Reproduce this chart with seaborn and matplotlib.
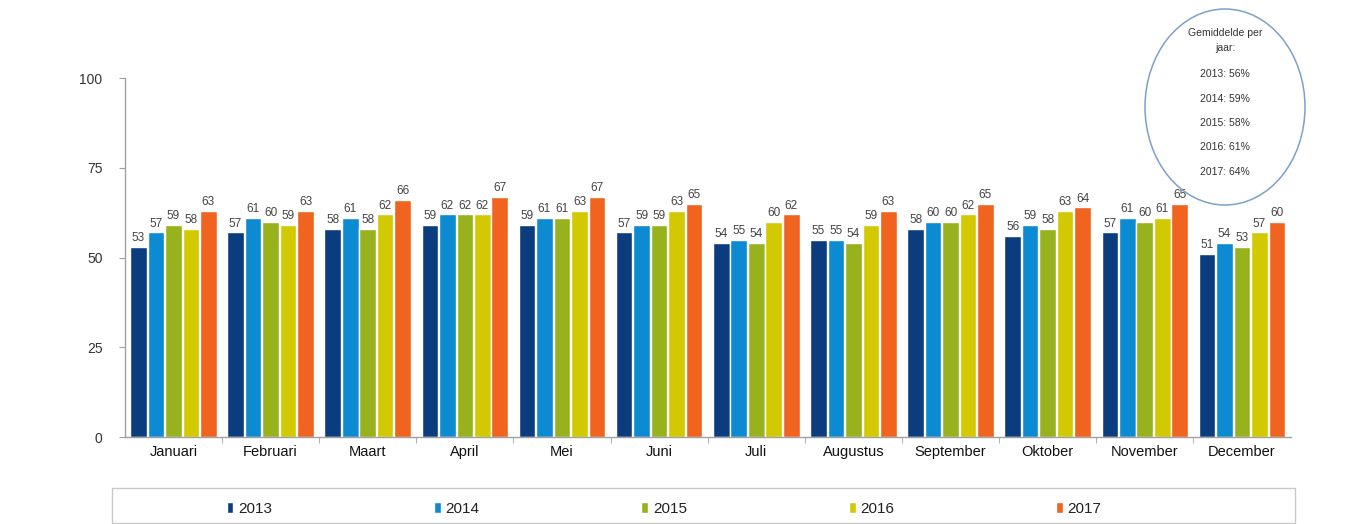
import pandas as pd
import matplotlib
matplotlib.use("Agg")
import matplotlib.pyplot as plt
from matplotlib.patches import Ellipse, Patch, Rectangle
import seaborn as sns

# data
months = ["Januari", "Februari", "Maart", "April", "Mei", "Juni", "Juli",
          "Augustus", "September", "Oktober", "November", "December"]
years = ["2013", "2014", "2015", "2016", "2017"]
v2013 = [53, 57, 58, 59, 59, 57, 54, 55, 58, 56, 57, 51]
v2014 = [57, 61, 61, 62, 61, 59, 55, 55, 60, 59, 61, 54]
v2015 = [59, 60, 58, 62, 61, 59, 54, 54, 60, 58, 60, 53]
v2016 = [58, 59, 62, 62, 63, 63, 60, 59, 62, 63, 61, 57]
v2017 = [63, 63, 66, 67, 67, 65, 62, 63, 65, 64, 65, 60]
averages = ["2013: 56%", "2014: 59%", "2015: 58%", "2016: 61%", "2017: 64%"]

colors = ["#0b3d7e", "#0d8bd2", "#97b21d", "#d3c900", "#f06420"]

rows = []
for yr, vals in zip(years, [v2013, v2014, v2015, v2016, v2017]):
    for m, v in zip(months, vals):
        rows.append({"maand": m, "jaar": yr, "waarde": v})
df = pd.DataFrame(rows)

sns.set_style("white")
plt.rcParams['font.family'] = ['Liberation Sans', 'DejaVu Sans']

fig = plt.figure(figsize=(13.57, 5.24), dpi=100)
ax = fig.add_axes([0.092, 0.166, 0.859, 0.685])

sns.barplot(data=df, x="maand", y="waarde", hue="jaar", order=months,
            hue_order=years, palette=colors, width=0.9, gap=0.05,
            saturation=1, ax=ax, legend=False, errorbar=None)

for cont in ax.containers:
    ax.bar_label(cont, fmt="%d", fontsize=8.5, color="#444444", padding=2)

ax.set_ylim(0, 100)
ax.set_xlim(-0.5, len(months) - 0.5)
ax.set_yticks([0, 25, 50, 75, 100])
ax.set_xlabel("")
ax.set_ylabel("")
for s in ["top", "right"]:
    ax.spines[s].set_visible(False)
for s in ["left", "bottom"]:
    ax.spines[s].set_color("#a0a0a0")
    ax.spines[s].set_linewidth(1)
ax.tick_params(axis="y", left=True, length=4, color="#a0a0a0",
               labelsize=10, labelcolor="#333333", pad=12)
ax.tick_params(axis="x", which="major", length=0, labelsize=10.5,
               labelcolor="#111111", pad=6)
ax.set_xticks([i + 0.5 for i in range(len(months) - 1)], minor=True)
ax.tick_params(axis="x", which="minor", bottom=True, length=4, color="#a0a0a0")

# legend box and entries
box = Rectangle((112, 1), 1183, 35, transform=None, facecolor="none",
                edgecolor="#c8c8c8", linewidth=1)
fig.patches.append(box)
handles = [Patch(facecolor=c, label=y) for c, y in zip(colors, years)]
leg = fig.legend(handles=handles, loc="center", ncol=5,
                 bbox_to_anchor=(664 / 1357, 15 / 524),
                 frameon=False, fontsize=11,
                 handlelength=0.45, handleheight=0.7, handletextpad=0.3,
                 columnspacing=10.6)
for t in leg.get_texts():
    t.set_color("#222222")

# averages circle
circle = Ellipse((1225, 524 - 107), 160, 196, transform=None,
                 facecolor="none", edgecolor="#7ea0c8", linewidth=1.1)
fig.patches.append(circle)
fig.text(1225 / 1357, 1 - 33 / 524, "Gemiddelde per", ha="center",
         va="center", fontsize=7.5, color="#333333")
fig.text(1225 / 1357, 1 - 48 / 524, "jaar:", ha="center",
         va="center", fontsize=7.5, color="#333333")
for i, a in enumerate(averages):
    fig.text(1225 / 1357, 1 - (74 + 24.5 * i) / 524, a, ha="center",
             va="center", fontsize=7.5, color="#333333")

fig.savefig("out.png", dpi=100)
